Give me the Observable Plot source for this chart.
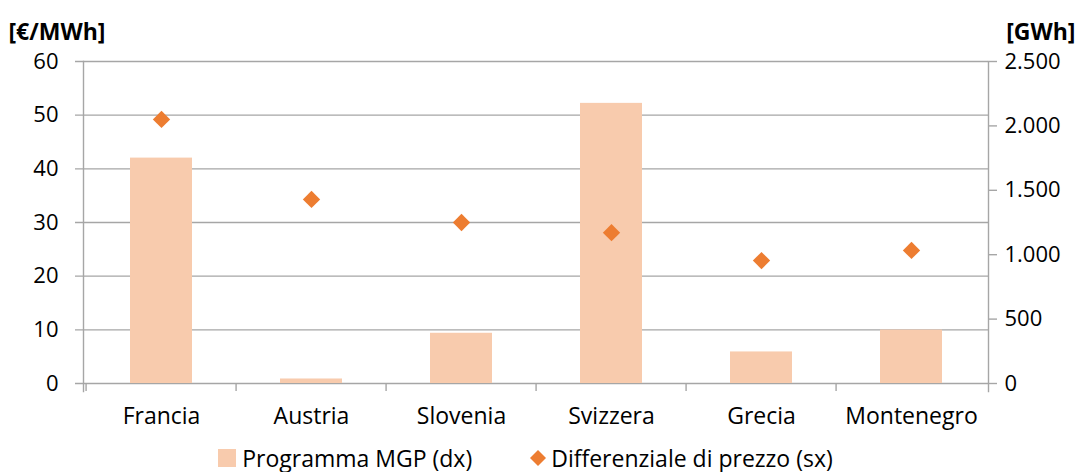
<!DOCTYPE html>
<html>
<head>
<meta charset="utf-8">
<script src="https://cdn.jsdelivr.net/npm/d3@7"></script>
<script src="https://cdn.jsdelivr.net/npm/@observablehq/plot@0.6"></script>
<style>
  body { margin: 0; background: #fff; font-family: "Open Sans", sans-serif; }
  #chart svg { display: block; }
  .legend {
    display: flex; justify-content: center; align-items: center;
    height: 28px; font-size: 23px; line-height: 28px; color: #000; padding-right: 26px;
  }
  .legend .item { display: flex; align-items: center; margin: 0 29px; }
  .legend .sw { width: 18px; height: 18px; background: #F8CBAD; margin-right: 6px; }
  .legend svg { margin-right: 5px; }
</style>
</head>
<body>
<div id="chart"></div>
<script>
// Interconnection data by border
const countries = ["Francia", "Austria", "Slovenia", "Svizzera", "Grecia", "Montenegro"];
// Programma MGP, GWh (right axis)
const mgpGWh = [1750, 35, 390, 2175, 245, 415];
// Differenziale di prezzo, €/MWh (left axis)
const priceSpread = [49.2, 34.3, 30.0, 28.1, 22.9, 24.8];
// Axis ticks
const leftTicks = [0, 10, 20, 30, 40, 50, 60];
const rightTicks = [0, 500, 1000, 1500, 2000, 2500];

const leftMax = 60, rightMax = 2500;
const k = leftMax / rightMax; // GWh -> left-axis units

const rows = countries.map((c, i) => ({ country: c, mgp: mgpGWh[i], spread: priceSpread[i] }));

const itFormat = d3.formatLocale({ decimal: ",", thousands: ".", grouping: [3], currency: ["", " €"] }).format(",");

const W = 1077, H = 444;
const mL = 83, mR = 89, mT = 61, mB = 61;
const halfStep = (W - mL - mR) / countries.length / 2;
const grid = "#A6A6A6";
const font = "'Open Sans', sans-serif";

const chart = Plot.plot({
  width: W, height: H,
  marginLeft: mL, marginRight: mR, marginTop: mT, marginBottom: mB,
  style: { fontFamily: font, fontSize: "22px", color: "#000", background: "#fff", overflow: "visible" },
  x: { domain: countries, paddingInner: 0.59, paddingOuter: 0.295, axis: null },
  y: { domain: [0, leftMax], axis: null },
  marks: [
    // horizontal gridlines with outward left ticks
    Plot.ruleY(leftTicks, { stroke: grid, strokeWidth: 1.4, insetLeft: -8 }),
    // left and right axis lines, extended below the baseline
    Plot.frame({ anchor: "left", stroke: grid, strokeWidth: 1.4, insetBottom: -8 }),
    Plot.frame({ anchor: "right", stroke: grid, strokeWidth: 1.4, insetBottom: -8 }),
    // bars: Programma MGP on the right scale
    Plot.barY(rows, { x: "country", y: d => d.mgp * k, fill: "#F8CBAD" }),
    // diamonds: price spread on the left scale
    Plot.dot(rows, { x: "country", y: "spread", symbol: "diamond2", r: 7.8, fill: "#ED7D31", stroke: "none" }),
    // left axis labels
    Plot.axisY(leftTicks, { anchor: "left", label: null, tickSize: 0, tickPadding: 25, tickFormat: d => d, fontSize: 22 }),
    // right axis (GWh)
    Plot.axisY(rightTicks.map(v => v * k), {
      anchor: "right", label: null, tickSize: 8, tickPadding: 8, stroke: grid, strokeWidth: 1.4,
      tickFormat: v => itFormat(Math.round(v / k)), fontSize: 22
    }),
    // category labels
    Plot.axisX({ label: null, tickSize: 0, tickPadding: 24, fontSize: 23 }),
    // category separators below the baseline
    Plot.axisX({ label: null, tickSize: 8, dx: -halfStep, stroke: grid, strokeWidth: 1.4, tickFormat: () => "" }),
    // unit titles
    Plot.text(["[€/MWh]"], { frameAnchor: "top-left", dx: -75, dy: -38, textAnchor: "start", fontWeight: "bold", fontSize: 23 }),
    Plot.text(["[GWh]"], { frameAnchor: "top-right", dx: 87, dy: -38, textAnchor: "end", fontWeight: "bold", fontSize: 23 })
  ]
});

document.getElementById("chart").append(chart);

// legend below the chart
const legend = document.createElement("div");
legend.className = "legend";
legend.innerHTML = `
  <div class="item"><div class="sw"></div><span>Programma MGP (dx)</span></div>
  <div class="item"><svg width="16" height="16" viewBox="0 0 16 16"><path d="M8 0L16 8L8 16L0 8Z" fill="#ED7D31"/></svg><span>Differenziale di prezzo (sx)</span></div>`;
document.getElementById("chart").append(legend);
</script>
</body>
</html>
